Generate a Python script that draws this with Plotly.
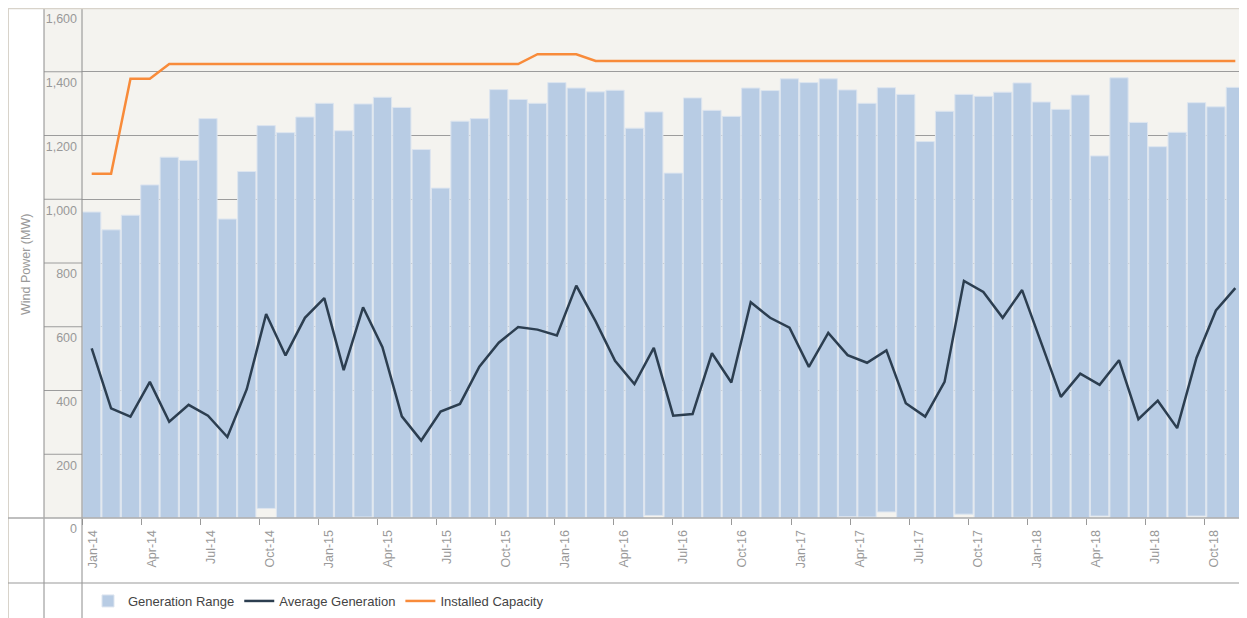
import pandas as pd
import plotly.graph_objects as go

# monthly wind generation, Jan-14 .. Dec-18
months = list(pd.date_range("2014-01-01", periods=60, freq="MS").strftime("%b-%y"))

gen_max = [
    960, 904, 950, 1045, 1132, 1122, 1253, 938, 1087, 1231, 1209, 1258,
    1301, 1215, 1299, 1320, 1288, 1156, 1035, 1245, 1253, 1344, 1313, 1301,
    1366, 1349, 1337, 1342, 1223, 1274, 1082, 1318, 1279, 1260, 1349, 1341,
    1378, 1366, 1378, 1343, 1301, 1350, 1329, 1181, 1276, 1329, 1323, 1336,
    1365, 1305, 1282, 1327, 1136, 1381, 1241, 1165, 1210, 1303, 1290, 1351,
]

gen_min = [
    0, 0, 0, 0, 0, 0, 1, 0, 0, 30, 0, 0,
    1, 1, 3, 0, 2, 0, 0, 0, 0, 1, 1, 0,
    0, 1, 0, 0, 0, 8, 0, 0, 0, 0, 0, 0,
    0, 0, 0, 4, 3, 19, 1, 0, 0, 12, 0, 0,
    2, 0, 0, 0, 6, 0, 0, 0, 0, 6, 0, 0,
]

avg_gen = [
    532, 344, 318, 427, 302, 355, 321, 254, 404, 640, 510, 628,
    690, 464, 661, 536, 319, 243, 334, 358, 475, 550, 599, 591,
    573, 729, 617, 493, 420, 534, 321, 326, 517, 425, 677, 628,
    597, 474, 581, 511, 487, 526, 360, 318, 427, 744, 709, 628,
    715, 545, 380, 453, 418, 495, 310, 368, 282, 503, 651, 721,
]

capacity = [
    1080, 1080, 1378, 1378, 1424, 1424, 1424, 1424, 1424, 1424, 1424, 1424,
    1424, 1424, 1424, 1424, 1424, 1424, 1424, 1424, 1424, 1424, 1424, 1455,
    1455, 1455, 1434, 1434, 1434, 1434, 1434, 1434, 1434, 1434, 1434, 1434,
    1434, 1434, 1434, 1434, 1434, 1434, 1434, 1434, 1434, 1434, 1434, 1434,
    1434, 1434, 1434, 1434, 1434, 1434, 1434, 1434, 1434, 1434, 1434, 1434,
]

y_ticks = [0, 200, 400, 600, 800, 1000, 1200, 1400, 1600]

FONT = "Liberation Sans, Arial, sans-serif"
BEIGE = "#f4f3ef"
GRID = "#9c9c9c"
FRAME = "#d8d3ca"

fig = go.Figure()

fig.add_trace(go.Bar(
    x=months,
    y=[hi - lo for hi, lo in zip(gen_max, gen_min)],
    base=gen_min,
    name="Generation Range",
    marker=dict(color="#b8cce4", line=dict(color="#dde5ef", width=1)),
))
fig.add_trace(go.Scatter(
    x=months, y=avg_gen, mode="lines", name="Average Generation",
    line=dict(color="#2c3e50", width=2.5),
))
fig.add_trace(go.Scatter(
    x=months, y=capacity, mode="lines", name="Installed Capacity",
    line=dict(color="#f88b3a", width=2.5),
))


# page pixel -> paper (page has an 8px body margin; plot area is page x 82..1245, y 8..518)
def px_x(p):
    return (p - 82) / 1163.0


def px_y(p):
    return (518 - p) / 510.0


shapes = []
# beige panel incl. the tick label column
shapes.append(dict(type="rect", xref="paper", yref="paper",
                   x0=px_x(44), x1=1, y0=0, y1=1,
                   fillcolor=BEIGE, line=dict(width=0), layer="below"))
# gridlines continue into the label column
for v in y_ticks[1:]:
    shapes.append(dict(type="line", xref="paper", yref="y",
                       x0=px_x(44), x1=0, y0=v, y1=v,
                       line=dict(color=GRID, width=1)))
# frame lines
for xp, col, w in [(82, "#8c8c8c", 1), (44, "#8c8c8c", 1), (8, FRAME, 2)]:
    shapes.append(dict(type="line", xref="paper", yref="paper",
                       x0=px_x(xp), x1=px_x(xp), y0=px_y(618), y1=1,
                       line=dict(color=col, width=w)))
shapes.append(dict(type="line", xref="paper", yref="paper",
                   x0=px_x(8), x1=1, y0=0, y1=0,
                   line=dict(color="#aaaaaa", width=1.5)))
shapes.append(dict(type="line", xref="paper", yref="paper",
                   x0=px_x(8), x1=1, y0=px_y(583), y1=px_y(583),
                   line=dict(color="#999999", width=1)))
shapes.append(dict(type="line", xref="paper", yref="paper",
                   x0=px_x(8), x1=1, y0=1, y1=1,
                   line=dict(color=FRAME, width=2.5)))

tick_idx = list(range(0, 60, 3))

fig.update_layout(
    width=1239, height=610,
    margin=dict(l=74, r=2, t=0, b=100),
    paper_bgcolor="white",
    plot_bgcolor=BEIGE,
    font=dict(family=FONT, color="#999999"),
    bargap=0.06,
    showlegend=True,
    legend=dict(orientation="h", x=px_x(88), y=px_y(601),
                xanchor="left", yanchor="middle",
                font=dict(size=13, color="#444444"),
                bgcolor="rgba(0,0,0,0)", itemwidth=30),
    xaxis=dict(type="category", showticklabels=False, ticks="",
               showgrid=False, zeroline=False, showline=False,
               range=[-0.5, 59.5], automargin=False),
    xaxis2=dict(overlaying="x", anchor="y", side="bottom", type="linear",
                range=[-0.03, 59.07], automargin=False,
                tickmode="array", tickvals=tick_idx,
                ticktext=[months[i] for i in tick_idx],
                ticks="outside", ticklen=6, tickcolor="#999999",
                tickangle=-90, ticklabelshift=10,
                tickfont=dict(size=12.5, color="#999999"),
                showgrid=False, zeroline=False, showline=False),
    yaxis=dict(range=[0, 1600], tickmode="array", tickvals=y_ticks,
               tickformat=",", gridcolor=GRID, gridwidth=1,
               zeroline=False, showline=False, ticks="",
               ticklabelshift=11, ticklabelstandoff=4,
               ticklabeloverflow="allow", automargin=False,
               tickfont=dict(size=12.5, color="#999999")),
    shapes=shapes,
    annotations=[dict(text="Wind Power (MW)", xref="paper", yref="paper",
                      x=px_x(26), y=px_y(265), xanchor="center",
                      yanchor="middle", showarrow=False,
                      textangle=-90, font=dict(size=12.5, color="#999999"))],
)

# empty trace so the label axis gets drawn
fig.add_trace(go.Scatter(x=[0], y=[None], xaxis="x2", showlegend=False,
                         hoverinfo="skip", mode="lines"))

fig.write_html("out.html")
